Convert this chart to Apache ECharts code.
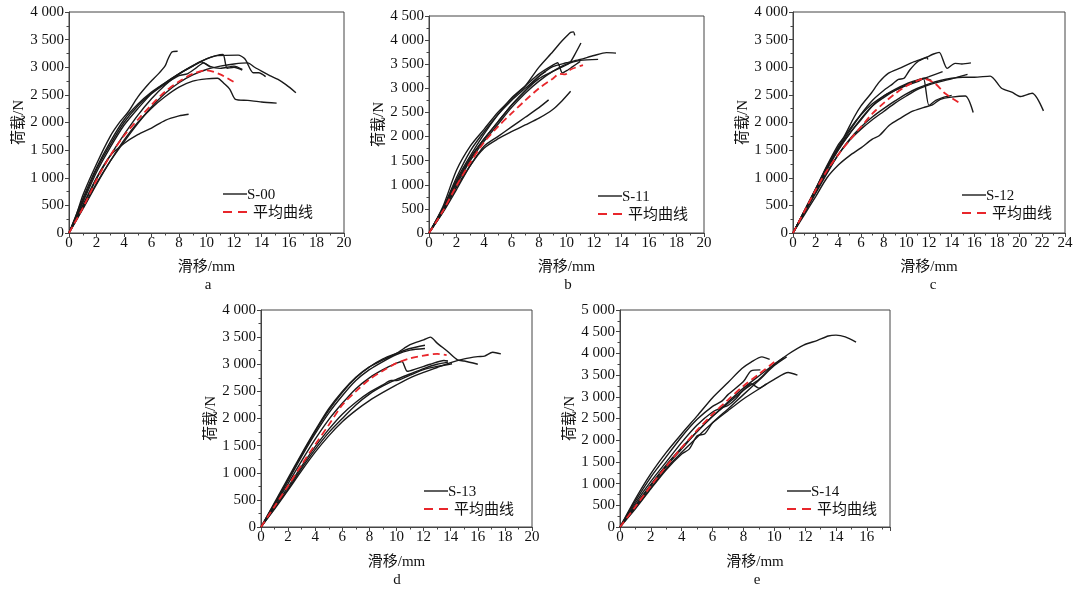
<!DOCTYPE html>
<html><head><meta charset="utf-8">
<script src="https://cdn.jsdelivr.net/npm/echarts@6/dist/echarts.min.js"></script>
<style>html,body{margin:0;padding:0;background:#fff}#c{width:1080px;height:590px}</style>
</head><body><div id="c"></div>
<script>
// ---- data (x: slip in mm, y: load in N) ----
const namesGroup = ['S-00','S-11','S-12','S-13','S-14'];
const avgName = '平均曲线';
const panelLetters = ['a','b','c','d','e'];
const xMax = [20,20,24,20,17.5];
const yMax = [4000,4500,4000,4000,5000];

const S00 = [
 [[0,0],[0.5,300],[1,680],[2,1250],[3,1750],[3.7,2010],[4.3,2190],[5,2460],[5.8,2700],[6.5,2880],[7,3030],[7.2,3150],[7.5,3280],[7.9,3290]],
 [[0,0],[1,500],[2,1000],[3,1400],[4,1620],[5,1780],[6,1900],[7,2040],[8,2120],[8.7,2150]],
 [[0,0],[1,620],[2,1180],[3,1650],[4,2050],[5,2330],[6,2550],[7,2720],[8,2880],[9,3020],[10,3150],[10.7,3210],[11.2,3230],[11.5,2980],[12,3000],[12.6,2950]],
 [[0,0],[1,480],[2,980],[3,1400],[4,1780],[5,2130],[6,2430],[7,2680],[8,2880],[9,3030],[10,3150],[10.8,3210],[12.3,3220],[12.8,3150],[13.4,2900],[13.8,2900],[14.3,2830]],
 [[0,0],[1,450],[2,900],[3,1300],[4,1650],[5,1980],[6,2280],[7,2530],[8,2720],[9,2860],[10,2960],[11,3020],[12,3060],[13,3080],[13.5,3000],[14,2930],[14.6,2850],[15.2,2780],[15.8,2680],[16.5,2540]],
 [[0,0],[1,430],[2,880],[3,1300],[4,1680],[5,2000],[6,2260],[7,2470],[8,2640],[9,2750],[10,2790],[10.8,2800],[11.3,2700],[11.7,2600],[12.1,2420],[13,2400],[14,2370],[15.1,2350]],
 [[0,0],[1,580],[2,1150],[3,1600],[4,2000],[5,2300],[6,2530],[7,2720],[8,2880],[9,3020],[9.6,3100],[10.2,3020],[11,2980],[12,3020],[12.6,2960]],
 [[0,0],[1,550],[2,1100],[3,1550],[4,1950],[5,2250],[6,2520],[7,2700],[8,2850],[8.6,2880],[9.2,2980],[9.8,3080],[10.3,3000]]
];
const AVG00 = [[0,0],[1,450],[2,960],[3,1400],[4,1760],[5,2050],[6,2320],[7,2560],[8,2740],[9,2880],[10,2945],[11,2870],[12.1,2715]];

const S11 = [
 [[0,0],[1,540],[2,1300],[3,1800],[4,2150],[5,2500],[6,2780],[7,3050],[8,3440],[9,3760],[9.5,3930],[10,4080],[10.3,4160],[10.5,4170],[10.6,4100]],
 [[0,0],[1,480],[2,1050],[3,1550],[4,1950],[5,2300],[6,2650],[7,2950],[8,3200],[9,3350],[9.5,3420],[10.2,3520],[10.6,3700],[11.05,3940]],
 [[0,0],[1,500],[2,1150],[3,1700],[4,2100],[5,2450],[6,2750],[7,3000],[8,3250],[9,3450],[10,3530],[11,3600],[12,3680],[12.9,3740],[13.6,3730]],
 [[0,0],[1,450],[2,1000],[3,1500],[4,1900],[5,2250],[6,2600],[7,2900],[8,3150],[9,3350],[10,3500],[11,3580],[12.3,3600]],
 [[0,0],[1,500],[2,1100],[3,1600],[4,2050],[5,2450],[6,2800],[7,3050],[8,3300],[9,3480],[9.35,3530],[9.7,3320],[10.1,3380],[10.4,3440],[11,3560]],
 [[0,0],[1,430],[2,950],[3,1400],[4,1800],[5,2000],[6,2200],[7,2400],[8,2600],[8.7,2760]],
 [[0,0],[1,420],[2,900],[3,1400],[4,1760],[5,1950],[6,2100],[7,2240],[8,2380],[9,2560],[9.7,2750],[10.3,2940]],
 [[0,0],[1,500],[2,1050],[3,1550],[4,1950],[5,2300],[6,2650],[7,2950],[8,3250],[8.5,3350]]
];
const AVG11 = [[0,0],[1,450],[2,980],[3,1460],[4,1880],[5,2200],[6,2480],[7,2750],[8,3000],[9,3200],[9.5,3300],[9.9,3290],[10.3,3390],[11.2,3480]];

const S12 = [
 [[0,0],[1,400],[2,800],[3,1220],[4,1600],[4.5,1740],[5.4,2100],[6,2300],[6.9,2530],[7.6,2730],[8.4,2890],[9.5,2990],[10.7,3100],[11.5,3160],[11.8,3180],[11.9,3140]],
 [[0,0],[1,390],[2,780],[3,1180],[4,1530],[5,1850],[6,2150],[7,2400],[8,2580],[8.8,2700],[9.3,2780],[9.8,2800],[10.3,2950],[11,3100],[11.8,3180],[12.4,3240],[12.9,3270],[13.6,2980],[14.3,3070],[14.9,3060],[15.7,3080]],
 [[0,0],[1,360],[2,720],[3,1080],[4,1420],[5,1700],[6,1920],[7,2100],[8,2250],[9,2390],[10,2520],[11,2620],[12,2700],[13,2760],[14,2800],[15,2820],[16,2820],[17.4,2840],[18.4,2620],[19.3,2550],[20.1,2470],[21.1,2530],[22.1,2210]],
 [[0,0],[1,330],[2,660],[3,1000],[4,1230],[5,1400],[6,1540],[7,1700],[7.6,1760],[8.5,1950],[9.5,2080],[10.5,2200],[11.5,2270],[12.3,2320],[13,2420],[14,2460],[15.2,2480],[15.9,2180]],
 [[0,0],[1,380],[2,760],[3,1150],[4,1500],[5,1800],[6,2050],[7,2300],[8,2480],[9,2600],[10,2700],[11,2770],[11.5,2800],[12,2310],[12.6,2400],[13.2,2450],[14,2490]],
 [[0,0],[1,390],[2,780],[3,1170],[4,1520],[5,1800],[6,2070],[7,2300],[8,2450],[9,2580],[10,2680],[11,2760],[12,2830],[13.2,2920]],
 [[0,0],[1,370],[2,740],[3,1100],[4,1420],[5,1680],[6,1880],[7,2050],[8,2200],[9,2350],[10,2480],[11,2600],[12,2680],[13,2740],[14,2790],[15.4,2870]],
 [[0,0],[1,400],[2,800],[3,1200],[4,1560],[5,1880],[6,2140],[7,2340],[8,2480],[9,2580],[10,2670],[11,2740],[11.6,2800],[12.2,2760]]
];
const AVG12 = [[0,0],[1,390],[2,780],[3,1130],[4,1420],[5,1680],[6,1920],[7,2160],[8,2350],[9,2520],[10,2660],[11,2760],[11.5,2790],[12.5,2710],[13.4,2530],[14.8,2340]];

const S13 = [
 [[0,0],[1,450],[2,900],[3,1350],[4,1780],[5,2180],[6,2500],[7,2760],[8,2950],[9,3080],[10,3200],[11,3360],[12,3450],[12.5,3500],[13,3390],[13.8,3230],[14.5,3080],[15,3060],[16,3000]],
 [[0,0],[1,430],[2,870],[3,1330],[4,1760],[5,2150],[6,2480],[7,2750],[8,2950],[9,3100],[10,3200],[11,3290],[12.1,3350]],
 [[0,0],[1,420],[2,850],[3,1300],[4,1720],[5,2100],[6,2420],[7,2700],[8,2900],[9,3050],[10,3180],[11,3260],[12.1,3290]],
 [[0,0],[1,330],[2,680],[3,1040],[4,1380],[5,1680],[6,1940],[7,2150],[8,2330],[9,2480],[10,2620],[11,2750],[12,2850],[13,2940],[14,3030],[15,3100],[16,3140],[16.5,3150],[17.1,3220],[17.7,3190]],
 [[0,0],[1,400],[2,800],[3,1220],[4,1620],[5,1980],[6,2280],[7,2550],[8,2750],[9,2900],[10,3020],[10.4,3050],[10.8,2870],[11.5,2920],[12.5,3000],[13.5,3070],[13.8,3060]],
 [[0,0],[1,370],[2,740],[3,1120],[4,1480],[5,1800],[6,2080],[7,2300],[8,2480],[9,2620],[9.6,2700],[10,2700],[11,2800],[12,2900],[13,2960],[14.1,3010]],
 [[0,0],[1,350],[2,700],[3,1080],[4,1430],[5,1740],[6,2000],[7,2250],[8,2450],[9,2600],[10,2720],[11,2820],[12,2920],[13,3000],[13.8,3040]]
];
const AVG13 = [[0,0],[1,380],[2,760],[3,1150],[4,1520],[5,1880],[6,2250],[7,2500],[8,2720],[9,2880],[10,3020],[11,3110],[12,3160],[13,3190],[13.7,3170]];

const S14 = [
 [[0,0],[1,500],[2,980],[3,1430],[4,1830],[5,2200],[6,2550],[7,2880],[8,3200],[9,3480],[10,3750],[10.9,3980],[11.9,4190],[12.8,4300],[13.5,4400],[14,4420],[14.6,4380],[15.3,4260]],
 [[0,0],[1,650],[2,1230],[3,1720],[4,2150],[5,2560],[6,2980],[7,3330],[7.9,3650],[8.5,3800],[9.2,3920],[9.7,3860]],
 [[0,0],[1,450],[2,900],[3,1350],[4,1720],[5,2070],[6,2400],[7,2680],[8,2950],[9,3180],[10,3400],[10.9,3560],[11.5,3500]],
 [[0,0],[1,600],[2,1150],[3,1620],[4,2080],[5,2480],[6,2780],[6.6,2900],[7,3050],[8,3350],[8.5,3600],[9.1,3620]],
 [[0,0],[1,420],[2,880],[3,1320],[4,1680],[4.5,1800],[5,2100],[5.5,2150],[6,2400],[7,2720],[8,3050],[9,3380],[10,3720],[10.8,3920]],
 [[0,0],[1,550],[2,1050],[3,1500],[4,1950],[5,2350],[6,2650],[6.6,2750],[7,2800],[7.5,2950],[8,3150],[9,3400],[10,3750],[10.6,3900]],
 [[0,0],[1,480],[2,950],[3,1400],[4,1800],[5,2200],[6,2550],[7,2850],[8,3150],[8.5,3300],[9,3200],[9.5,3300]]
];
const AVG14 = [[0,0],[1,470],[2,950],[3,1400],[4,1830],[5,2230],[6,2600],[7,2930],[8,3250],[9,3520],[10,3800]];

const groups = [S00,S11,S12,S13,S14];
const avgs = [AVG00,AVG11,AVG12,AVG13,AVG14];

// ---- layout ----
const grids = [
 {left:69, top:12, width:275, height:221},
 {left:429, top:16, width:275, height:217},
 {left:793, top:12, width:272, height:221},
 {left:261, top:310, width:271, height:217},
 {left:620, top:310, width:270, height:217}
];
const legendPos = [[223,194],[598,196],[962,195],[424,491],[787,491]];
const yNameGap = [40,40,40,39,39];
const xNameGap = [27,27,27,28,28];
const letterPos = [[208,285],[568,285],[933,285],[397,580],[757,580]];

const FONT = "'Liberation Serif','Noto Sans CJK SC',serif";
const axisColor = '#444';
const blackLine = '#1a1a1a';
const redLine = '#e8262b';

function yFmt(v){
  if (v >= 1000) { return Math.floor(v/1000) + ' ' + String(v % 1000).padStart(3,'0'); }
  return String(v);
}

const graphics = [];
letterPos.forEach((p,i) => {
  graphics.push({type:'text', x:p[0], y:p[1],
    style:{text:panelLetters[i], font:'15px ' + FONT, fill:'#111', align:'center', verticalAlign:'middle'}});
});
legendPos.forEach((p,i) => {
  const lx = p[0], ly = p[1], ly2 = p[1] + 18;
  graphics.push({type:'line', shape:{x1:lx, y1:ly, x2:lx+24, y2:ly}, style:{stroke:blackLine, lineWidth:1.4}});
  graphics.push({type:'text', x:lx+24, y:ly+1, style:{text:namesGroup[i], font:'15px ' + FONT, fill:'#111', verticalAlign:'middle'}});
  graphics.push({type:'line', shape:{x1:lx, y1:ly2, x2:lx+24, y2:ly2}, style:{stroke:redLine, lineWidth:1.8, lineDash:[9,6]}});
  graphics.push({type:'text', x:lx+30, y:ly2+1, style:{text:avgName, font:'15px ' + FONT, fill:'#111', verticalAlign:'middle'}});
});

const option = {
  animation:false,
  backgroundColor:'#fff',
  grid: grids.map(g => Object.assign({show:true, borderColor:axisColor, borderWidth:1, backgroundColor:'transparent', containLabel:false}, g)),
  xAxis: grids.map((g,i) => ({
    type:'value', gridIndex:i, min:0, max:xMax[i], interval:2,
    name:'滑移/mm', nameLocation:'middle', nameGap:xNameGap[i],
    nameTextStyle:{fontFamily:FONT, fontSize:15, color:'#111'},
    axisLine:{show:true, onZero:false, lineStyle:{color:axisColor, width:1}},
    axisTick:{show:true, inside:false, length:4, lineStyle:{color:axisColor}},
    minorTick:{show:true, splitNumber:2, length:2.5, lineStyle:{color:axisColor}},
    axisLabel:{fontFamily:FONT, fontSize:15, color:'#111', margin:3, showMaxLabel: xMax[i] % 2 === 0},
    splitLine:{show:false}, minorSplitLine:{show:false}
  })),
  yAxis: grids.map((g,i) => ({
    type:'value', gridIndex:i, min:0, max:yMax[i], interval:500,
    name:'荷载/N', nameLocation:'middle', nameGap:yNameGap[i],
    nameTextStyle:{fontFamily:FONT, fontSize:15, color:'#111'},
    axisLine:{show:true, onZero:false, lineStyle:{color:axisColor, width:1}},
    axisTick:{show:true, inside:false, length:4, lineStyle:{color:axisColor}},
    minorTick:{show:true, splitNumber:2, length:2.5, lineStyle:{color:axisColor}},
    axisLabel:{fontFamily:FONT, fontSize:15, color:'#111', margin:5, formatter:yFmt},
    splitLine:{show:false}, minorSplitLine:{show:false}
  })),
  graphic: graphics,
  series: []
};

groups.forEach((curves, gi) => {
  curves.forEach(c => {
    option.series.push({
      type:'line', name:namesGroup[gi], xAxisIndex:gi, yAxisIndex:gi,
      data:c, symbol:'none', showSymbol:false, smooth:0.25,
      lineStyle:{color:blackLine, width:1.4}, itemStyle:{color:blackLine}, z:2
    });
  });
  option.series.push({
    type:'line', name:avgName, xAxisIndex:gi, yAxisIndex:gi,
    data:avgs[gi], symbol:'none', showSymbol:false, smooth:0.3,
    lineStyle:{color:redLine, width:1.8, type:[7,4]}, itemStyle:{color:redLine}, z:3
  });
});

const chart = echarts.init(document.getElementById('c'), null, {renderer:'canvas'});
chart.setOption(option);
</script>
</body></html>
